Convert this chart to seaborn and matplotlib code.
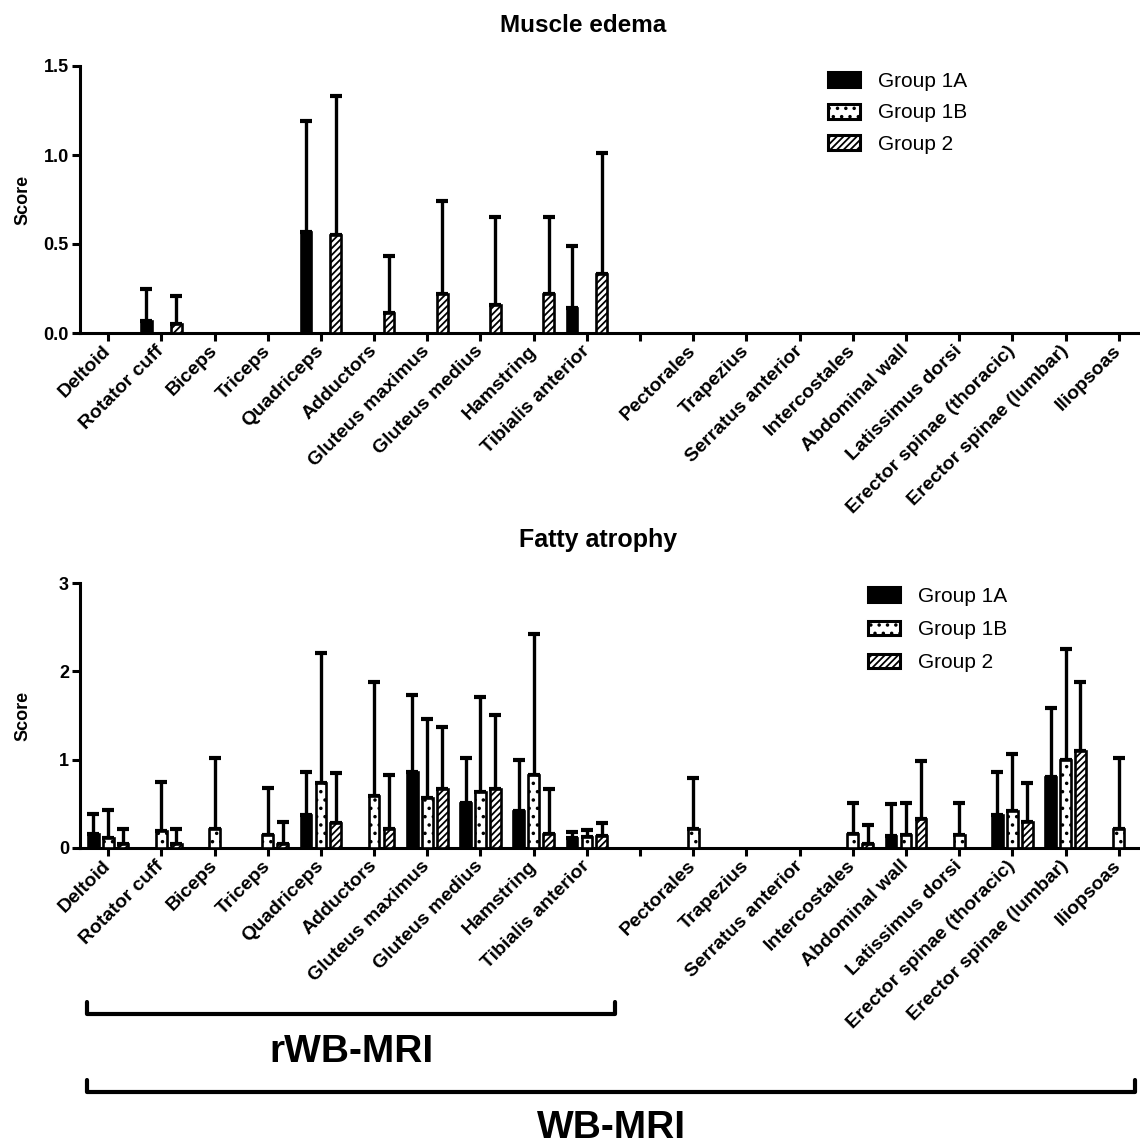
import matplotlib
matplotlib.use("Agg")
import matplotlib.pyplot as plt
from matplotlib.lines import Line2D
from matplotlib.patches import Patch
import seaborn as sns
import pandas as pd

muscles = ["Deltoid", "Rotator cuff", "Biceps", "Triceps", "Quadriceps", "Adductors",
           "Gluteus maximus", "Gluteus medius", "Hamstring", "Tibialis anterior",
           "Pectorales", "Trapezius", "Serratus anterior", "Intercostales", "Abdominal wall",
           "Latissimus dorsi", "Erector spinae (thoracic)", "Erector spinae (lumbar)", "Iliopsoas"]
groups = ["Group 1A", "Group 1B", "Group 2"]

# Muscle edema: means and SD (upper error)
edema_1a = [0, 0.07, 0, 0, 0.57, 0, 0, 0, 0, 0.14, 0, 0, 0, 0, 0, 0, 0, 0, 0]
edema_1a_sd = [0, 0.18, 0, 0, 0.62, 0, 0, 0, 0, 0.35, 0, 0, 0, 0, 0, 0, 0, 0, 0]
edema_1b = [0] * 19
edema_1b_sd = [0] * 19
edema_2 = [0, 0.05, 0, 0, 0.55, 0.11, 0.22, 0.16, 0.22, 0.33, 0, 0, 0, 0, 0, 0, 0, 0, 0]
edema_2_sd = [0, 0.16, 0, 0, 0.78, 0.32, 0.52, 0.49, 0.43, 0.68, 0, 0, 0, 0, 0, 0, 0, 0, 0]

# Fatty atrophy
atrophy_1a = [0.16, 0, 0, 0, 0.37, 0, 0.86, 0.51, 0.42, 0.11, 0, 0, 0, 0, 0.14, 0, 0.37, 0.80, 0]
atrophy_1a_sd = [0.22, 0, 0, 0, 0.49, 0, 0.87, 0.51, 0.58, 0.07, 0, 0, 0, 0, 0.36, 0, 0.49, 0.79, 0]
atrophy_1b = [0.11, 0.19, 0.22, 0.15, 0.74, 0.59, 0.57, 0.63, 0.83, 0.12, 0.22, 0, 0, 0.16, 0.15, 0.15, 0.42, 1.00, 0.22]
atrophy_1b_sd = [0.32, 0.56, 0.80, 0.53, 1.47, 1.29, 0.89, 1.08, 1.59, 0.08, 0.57, 0, 0, 0.35, 0.36, 0.36, 0.64, 1.25, 0.80]
atrophy_2 = [0.05, 0.05, 0, 0.05, 0.28, 0.21, 0.67, 0.67, 0.16, 0.14, 0, 0, 0, 0.05, 0.33, 0, 0.30, 1.10, 0]
atrophy_2_sd = [0.16, 0.16, 0, 0.25, 0.57, 0.62, 0.70, 0.84, 0.51, 0.14, 0, 0, 0, 0.21, 0.65, 0, 0.44, 0.78, 0]

# blank slot between the two muscle sets
order = muscles[:10] + [""] + muscles[10:]
hatches = {"Group 1A": "", "Group 1B": "..", "Group 2": "/////"}
colors = {"Group 1A": "black", "Group 1B": "white", "Group 2": "white"}

sns.set_style("ticks")
plt.rcParams["font.family"] = ["Liberation Sans", "DejaVu Sans"]
plt.rcParams["hatch.linewidth"] = 1.3
for key in ["text.color", "axes.labelcolor", "xtick.color", "ytick.color", "axes.edgecolor"]:
    plt.rcParams[key] = "black"

W, H = 1140, 1146
fig = plt.figure(figsize=(W / 100, H / 100), dpi=100)


def make_frame(means, sds):
    rows = []
    for g, m, s in zip(groups, means, sds):
        for name, v, e in zip(muscles, m, s):
            rows.append({"muscle": name, "group": g, "score": v, "sd": e})
    return pd.DataFrame(rows)


def draw_panel(ax, df, ymax, yticks, legend_anchor, spacing):
    sns.barplot(data=df, x="muscle", y="score", hue="group", order=order,
                hue_order=groups, palette=colors, width=0.84, gap=0.28,
                edgecolor="black", linewidth=1.9, errorbar=None, legend=False,
                ax=ax, zorder=3)
    sd_lookup = df.set_index(["group", "muscle"])["sd"]
    for g, cont in zip(groups, ax.containers):
        for bar in cont:
            bar.set_hatch(hatches[g])
            bar.set_zorder(3)
            xc = bar.get_x() + bar.get_width() / 2
            name = order[int(round(xc))]
            sd = sd_lookup.get((g, name), 0)
            if sd > 0:
                ax.errorbar(xc, bar.get_height(), yerr=[[0], [sd]], fmt="none",
                            ecolor="black", elinewidth=2.4, capsize=4,
                            capthick=3, zorder=2)
    ax.set_xlim(-0.53, 19.4)
    ax.set_ylim(0, ymax)
    ax.set_yticks(yticks)
    ax.set_xlabel("")
    ax.set_ylabel("Score", fontsize=13, fontweight="bold")
    ax.yaxis.set_label_coords(-0.046, 0.5)
    sns.despine(ax=ax)
    for sp in ["left", "bottom"]:
        ax.spines[sp].set_linewidth(2.2)
    ax.tick_params(axis="both", width=2.2, length=6, labelsize=13)
    ax.tick_params(axis="y", pad=2)
    ax.set_xticks(range(len(order)))
    ax.set_xticklabels(order, rotation=45, ha="right", va="center",
                       rotation_mode="anchor", fontsize=14, fontweight="bold")
    ax.tick_params(axis="x", pad=5)
    handles = [Patch(facecolor=colors[g], edgecolor="black", hatch=hatches[g],
                     linewidth=2.2, label=g) for g in groups]
    ax.legend(handles=handles, loc="upper left", bbox_to_anchor=legend_anchor,
              bbox_transform=fig.transFigure, frameon=False, fontsize=15,
              handlelength=1.55, handleheight=0.7, handletextpad=0.85,
              labelspacing=spacing, borderpad=0, borderaxespad=0)


ax1 = fig.add_axes([80 / W, 1 - 333 / H, 1060 / W, 267 / H])
edema = make_frame([edema_1a, edema_1b, edema_2], [edema_1a_sd, edema_1b_sd, edema_2_sd])
draw_panel(ax1, edema, 1.5, [0, 0.5, 1.0, 1.5], (828 / W, 1 - 72 / H), 0.6)
ax1.set_yticklabels(["0.0", "0.5", "1.0", "1.5"])

ax2 = fig.add_axes([80 / W, 1 - 848 / H, 1060 / W, 265 / H])
atrophy = make_frame([atrophy_1a, atrophy_1b, atrophy_2],
                     [atrophy_1a_sd, atrophy_1b_sd, atrophy_2_sd])
draw_panel(ax2, atrophy, 3, [0, 1, 2, 3], (868 / W, 1 - 587 / H), 0.68)

for ax in (ax1, ax2):
    for lab in ax.get_yticklabels():
        lab.set_fontweight("bold")

fig.text(583 / W, 1 - 25 / H, "Muscle edema", ha="center", va="center",
         fontsize=17.5, fontweight="bold")
fig.text(598 / W, 1 - 540 / H, "Fatty atrophy", ha="center", va="center",
         fontsize=18, fontweight="bold")


def bracket(x0, x1, y_line, y_tip, label, y_text, size):
    fig.add_artist(Line2D([x0 / W, x0 / W, x1 / W, x1 / W],
                          [1 - y_tip / H, 1 - y_line / H, 1 - y_line / H, 1 - y_tip / H],
                          transform=fig.transFigure, color="black", lw=3,
                          solid_capstyle="round", solid_joinstyle="round"))
    fig.text((x0 + x1) / 2 / W, 1 - y_text / H, label, ha="center", va="center",
             fontsize=size, fontweight="bold")


bracket(87, 615, 1014, 1002, "rWB-MRI", 1052, 28)
bracket(87, 1135, 1092, 1080, "WB-MRI", 1128, 28)

fig.savefig("out.png", dpi=100)
